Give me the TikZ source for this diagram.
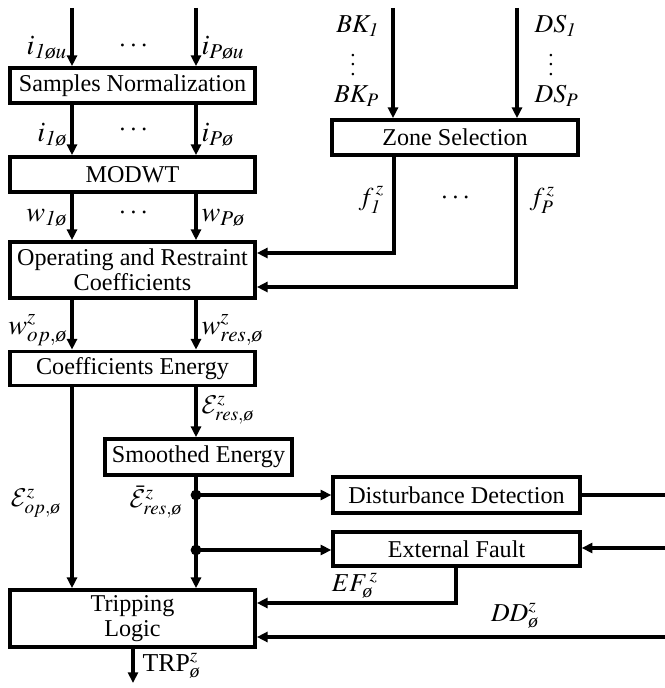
\documentclass[tikz,border=0pt]{standalone}
\usepackage{amsmath}
\usepackage{mathptmx}
\DeclareMathAlphabet{\mathcal}{OMS}{cmsy}{m}{n}
\usepackage{fontspec}
\setmainfont{Liberation Serif}
\usetikzlibrary{arrows.meta, positioning, calc}
\newcommand{\ph}{\text{\itshape\o}}

\begin{document}
\begin{tikzpicture}[x=0.015cm, y=-0.015cm,
    blk/.style={draw, line width=1.6pt, inner sep=0pt, align=center,
        font=\fontsize{10.3}{10.8}\selectfont},
    arr/.style={line width=1.3pt, -{Triangle[length=0.16cm, width=0.15cm]}},
    ln/.style={line width=1.3pt},
    lbl/.style={inner sep=0.5pt, font=\fontsize{12}{14}\selectfont},
    slbl/.style={inner sep=0.5pt, font=\fontsize{11}{13}\selectfont}]
                \useasboundingbox (0,0) rectangle (665,688);

                % Blocks
                \node[blk, minimum width=3.675cm, minimum height=0.525cm] (sn) at (132.5,85.5) {Samples Normalization};
                \node[blk, minimum width=3.675cm, minimum height=0.525cm] (modwt) at (132.5,174.5) {MODWT};
                \node[blk, minimum width=3.69cm, minimum height=0.525cm] (zs) at (455,137.5) {Zone Selection};
                \node[blk, minimum width=3.675cm, minimum height=0.84cm] (opres) at (132.5,270) {Operating and Restraint\\Coefficients};
                \node[blk, minimum width=3.675cm, minimum height=0.51cm] (ce) at (132.5,368.5) {Coefficients Energy};
                \node[blk, minimum width=2.8cm, minimum height=0.54cm] (se) at (198.5,457) {Smoothed Energy};
                \node[blk, minimum width=3.7cm, minimum height=0.54cm] (dd) at (456.5,495) {Disturbance Detection};
                \node[blk, minimum width=3.7cm, minimum height=0.51cm] (ef) at (456.5,549) {External Fault};
                \node[blk, minimum width=3.675cm, minimum height=0.855cm] (trip) at (132.5,618.5) {Tripping\\Logic};

                % Free ends
                \coordinate (ina) at (72,8);
                \coordinate (inb) at (196,8);
                \coordinate (bk) at (393,8);
                \coordinate (ds) at (517,8);
                \coordinate (ddout) at (665,495);
                \coordinate (efin) at (665,548);
                \coordinate (ddin) at (665,637);
                \coordinate (trpout) at (133,683);
                \coordinate (ja) at (196,495);
                \coordinate (jb) at (196,550);

                % Column connectors
                \draw[arr] (ina) -- (ina |- sn.north);
                \draw[arr] (inb) -- (inb |- sn.north);
                \draw[arr] (sn.south -| ina) -- (modwt.north -| ina);
                \draw[arr] (sn.south -| inb) -- (modwt.north -| inb);
                \draw[arr] (modwt.south -| ina) -- (opres.north -| ina);
                \draw[arr] (modwt.south -| inb) -- (opres.north -| inb);
                \draw[arr] (opres.south -| ina) -- (ce.north -| ina);
                \draw[arr] (opres.south -| inb) -- (ce.north -| inb);
                \draw[arr] (ce.south -| inb) -- (se.north -| inb);
                \draw[arr] (ce.south -| ina) -- (trip.north -| ina);
                \draw[arr] (se.south -| inb) -- (trip.north -| inb);
                \draw[arr] (ja) -- (dd.west |- ja);
                \draw[arr] (jb) -- (ef.west |- jb);
                \fill (ja) circle (2.3pt);
                \fill (jb) circle (2.3pt);

                % Zone selection
                \draw[arr] (bk) -- (bk |- zs.north);
                \draw[arr] (ds) -- (ds |- zs.north);
                \draw[arr] (zs.south -| 394,0) |- ($(opres.east)+(0,-17)$);
                \draw[arr] (zs.south -| 516,0) |- ($(opres.east)+(0,17)$);

                % Detection outputs
                \draw[ln] (dd.east) -- (ddout);
                \draw[arr] (efin) -- (ef.east |- efin);
                \draw[arr] (ef.south -| 456,0) |- ($(trip.east)+(0,-15.5)$);
                \draw[arr] (ddin) -- (trip.east |- ddin);
                \draw[arr] (trip.south -| trpout) -- (trpout);

                % Labels
                \node[lbl, anchor=east] (li1u) at (69,48) {$i_{\mathit{1}\ph u}$};
                \node[lbl] (ldu) at (135,46) {$\cdots$};
                \node[lbl, anchor=west] (liPu) at (200,48) {$i_{P\ph u}$};
                \node[lbl, anchor=east] (li1) at (69,135) {$i_{\mathit{1}\ph}$};
                \node[lbl] (ld) at (135,130) {$\cdots$};
                \node[lbl, anchor=west] (liP) at (200,135) {$i_{P\ph}$};
                \node[lbl, anchor=east] (lw1) at (69,218) {$w_{\mathit{1}\ph}$};
                \node[lbl] (ldw) at (135,213) {$\cdots$};
                \node[lbl, anchor=west] (lwP) at (200,218) {$w_{P\ph}$};
                \node[lbl, anchor=east] (lwop) at (69,330) {$w^z_{op,\ph}$};
                \node[lbl, anchor=west] (lwres) at (200,330) {$w^z_{res,\ph}$};
                \node[slbl, anchor=west] (leres) at (200,410) {$\mathcal{E}^z_{res,\ph}$};
                \node[slbl] (leop) at (36,503) {$\mathcal{E}^z_{op,\ph}$};
                \node[slbl] (lsm) at (156,502) {$\bar{\mathcal{E}}^z_{res,\ph}$};
                \node[slbl, anchor=east] (lbk1) at (381,26) {$BK_{\mathit{1}}$};
                \node[inner sep=0pt, font=\fontsize{9}{9}\selectfont] (lbkd) at (353,58) {$\vdots$};
                \node[slbl, anchor=east] (lbkP) at (381,96) {$BK_P$};
                \node[slbl, anchor=west] (lds1) at (533,26) {$DS_{\mathit{1}}$};
                \node[inner sep=0pt, font=\fontsize{9}{9}\selectfont] (ldsd) at (551,58) {$\vdots$};
                \node[slbl, anchor=west] (ldsP) at (533,96) {$DS_P$};
                \node[slbl, anchor=east] (lf1) at (386,200) {$f^{\,z}_{\mathit{1}}$};
                \node[lbl] (ldf) at (457,198) {$\cdots$};
                \node[slbl, anchor=west] (lfP) at (528,200) {$f^{\,z}_P$};
                \node[slbl] (lef) at (355,586) {$EF^{\,z}_{\ph}$};
                \node[slbl] (ldd) at (515,616) {$DD^z_{\ph}$};
                \node[slbl, anchor=west] (ltrp) at (141,666) {TRP$^z_{\ph}$};
            \end{tikzpicture}
\end{document}
